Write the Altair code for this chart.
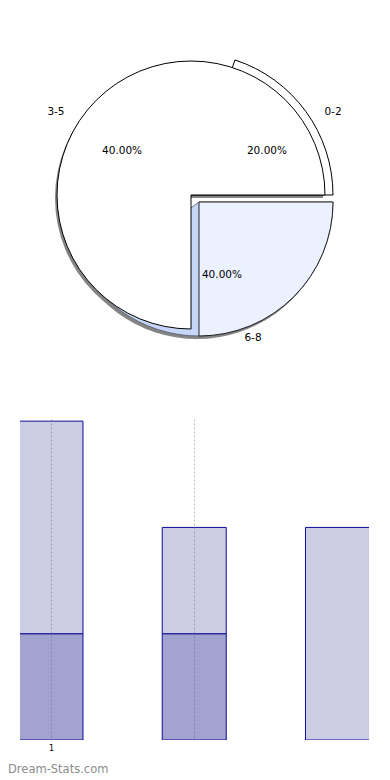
import math
import altair as alt
import pandas as pd

# ---------------- data ----------------
slice_labels = ["0-2", "3-5", "6-8"]
slice_share = [20, 40, 40]          # percent

# front faces as drawn by the original renderer, clockwise from 3 o'clock
face_labels = ["6-8", "3-5"]
face_quarters = [1, 3]

bar_positions = [1, 2, 3]
lower_values = [1, 1, 0]
upper_values = [2, 1, 2]
x_tick_values = [1, 2]
x_tick_labels = ["1", ""]

watermark = ["Dream-Stats.com"]

# ---------------- pie tables ----------------
deg = [s * 3.6 for s in slice_share]
cum = pd.Series(deg).cumsum().tolist()
pie_df = pd.DataFrame({
    "label": slice_labels,
    "t0": [90 - c for c in cum],
    "t1": [90 - (c - d) for c, d in zip(cum, deg)],
    "pct": [f"{s:.2f}%" for s in slice_share],
})
pie_df["mid"] = (pie_df["t0"] + pie_df["t1"]) / 2
pie_df["side"] = [1 if math.sin(math.radians(m)) >= 0 else -1 for m in pie_df["mid"]]
pie_df["top"] = [1 if math.cos(math.radians(m)) >= 0 else -1 for m in pie_df["mid"]]

fcum = pd.Series(face_quarters).cumsum().tolist()
face_df = pd.DataFrame({
    "label": face_labels,
    "t0": [90 + (c - q) * 90 for c, q in zip(fcum, face_quarters)],
    "t1": [90 + c * 90 for c in fcum],
})

theta_scale = alt.Scale(domain=[0, 360], range=[0, 2 * math.pi], nice=False, zero=False)

CX, CY, R = 171, 187, 134
EX, EY = 8, 7       # explode offset of 6-8
SX, SY = -2, 3      # shadow offset


def arc(df, label, cx, cy, r, **style):
    return (
        alt.Chart(df)
        .transform_filter(alt.datum.label == label)
        .mark_arc(radius=r, **style)
        .encode(
            theta=alt.Theta("t0:Q", scale=theta_scale, stack=None),
            theta2="t1:Q",
            x=alt.value(cx),
            y=alt.value(cy),
        )
    )


shadow_col = "#858585"
layers = [
    arc(pie_df, "6-8", CX + EX + SX, CY + EY + SY, R, fill=shadow_col),
    arc(face_df, "3-5", CX + SX, CY + SY, R, fill=shadow_col),
    arc(pie_df, "0-2", CX, CY, R + 8, fill="white", stroke="black", strokeWidth=1),
    arc(pie_df, "6-8", CX + EX, CY + EY, R, fill="#c5d6f8", stroke="#556", strokeWidth=0.8),
    arc(face_df, "3-5", CX, CY, R, fill="white", stroke="black", strokeWidth=1),
    arc(face_df, "6-8", CX + EX, CY + EY, R, fill="#ebf1fe", stroke="#222", strokeWidth=1),
]

lab_base = alt.Chart(pie_df).encode(
    theta=alt.Theta("mid:Q", scale=theta_scale, stack=None),
    x=alt.value(CX),
    y=alt.value(CY),
)

text_layers = []
# outer category labels (matplotlib-like alignment by side)
for side, align, dx in [(1, "left", 4), (-1, "right", 3)]:
    for top, dy in [(1, 11), (-1, -9)]:
        text_layers.append(
            lab_base.transform_filter((alt.datum.side == side) & (alt.datum.top == top))
            .mark_text(radius=160, align=align, baseline="middle", fontSize=10.5,
                       color="black", dx=dx, dy=dy)
            .encode(text="label:N")
        )
# inner percentage labels
for side, top, dx, dy in [(1, 1, 8, 5), (-1, 1, -1, 5), (1, -1, 5, 0), (-1, -1, 0, 0)]:
    text_layers.append(
        lab_base.transform_filter((alt.datum.side == side) & (alt.datum.top == top))
        .mark_text(radius=84, align="center", baseline="middle", fontSize=10.5,
                   color="black", dx=dx, dy=dy)
        .encode(text="pct:N")
    )

pie = alt.layer(*layers, *text_layers).properties(width=344, height=374)

# ---------------- bar table ----------------
rows = []
for p, lo, up in zip(bar_positions, lower_values, upper_values):
    rows.append({"pos": p, "series": "lower", "value": lo, "ord": 0})
    rows.append({"pos": p, "series": "upper", "value": up, "ord": 1})
bar_df = pd.DataFrame(rows)

label_expr = "''"
for v, l in reversed(list(zip(x_tick_values, x_tick_labels))):
    label_expr = f"datum.value == {v} ? '{l}' : ({label_expr})"

bars = (
    alt.Chart(bar_df)
    .transform_filter(alt.datum.value > 0)
    .mark_bar(size=64, clip=True, stroke="#0c0c96", strokeWidth=1)
    .encode(
        x=alt.X(
            "pos:Q",
            scale=alt.Scale(domain=[0.7836, 3.22], nice=False, zero=False, padding=0),
            axis=alt.Axis(
                values=x_tick_values,
                labelExpr=label_expr,
                grid=True,
                gridDash=[2, 2],
                gridColor="#666666",
                gridOpacity=0.45,
                domain=False,
                ticks=False,
                labelFontSize=8,
                labelPadding=4,
                labelColor="black",
                zindex=1,
                title=None,
            ),
        ),
        y=alt.Y("value:Q", stack="zero", scale=alt.Scale(domain=[0, 3.02], nice=False), axis=None),
        color=alt.Color(
            "series:N",
            scale=alt.Scale(domain=["lower", "upper"], range=["#a3a3d1", "#cccce4"]),
            legend=None,
        ),
        order=alt.Order("ord:Q"),
    )
)

wm = (
    alt.Chart(pd.DataFrame({"t": watermark}))
    .mark_text(align="left", baseline="middle", fontSize=11.5, color="#8c8c8c")
    .encode(text="t:N", x=alt.value(-12), y=alt.value(351))
)

bar_panel = alt.layer(bars, wm).properties(width=349, height=321)

chart = (
    alt.vconcat(pie, bar_panel, spacing=37)
    .properties(padding=0)
    .configure(font="DejaVu Sans")
    .configure_view(strokeWidth=0)
)

chart.save("out.html", embed_options={"renderer": "svg", "actions": False})
